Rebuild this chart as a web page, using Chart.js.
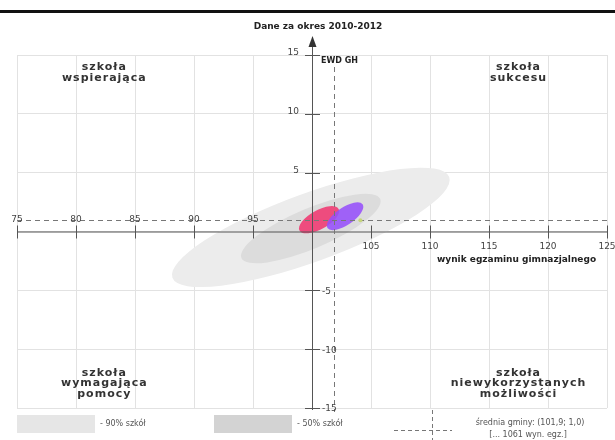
<!DOCTYPE html>
<html>
<head>
<meta charset="utf-8">
<script src="https://cdn.jsdelivr.net/npm/chart.js@4/dist/chart.umd.min.js"></script>
<style>
	body { margin: 0; background: #fff; }
	#wrap { position: relative; width: 615px; height: 440px; overflow: hidden; }
</style>
</head>
<body>
<div id="wrap"><canvas id="EwdChart" width="615" height="440"></canvas></div>
<script>
// dane
var title = "Dane za okres 2010-2012";
var xTicks = [75, 80, 85, 90, 95, 100, 105, 110, 115, 120, 125];
var yTicks = [-15, -10, -5, 0, 5, 10, 15];
var xTitle = "wynik egzaminu gimnazjalnego";
var meanPoint = [101.9, 1.0];
var meanCount = 1061;
var meanLabel = "EWD GH";

// elipsy: 90% szkół, 50% szkół, EWD (różowa), GH (fioletowa)
var ellipseCx = [99.9, 99.9, 100.6, 102.8];
var ellipseCy = [0.35, 0.25, 1.0, 1.3];
var ellipseRx = [12.5, 6.4, 1.9, 1.8];
var ellipseRy = [2.9, 1.7, 0.8, 0.75];
var ellipseAngle = [20, 23, 29, 34];
var ellipseColors = ["#ececec", "#dcdcdc", "rgba(240,60,115,0.9)", "rgba(150,80,250,0.88)"];

var schoolX = [104.1];
var schoolY = [0.95];

var quadrants = [
	{ x: 82.4, y: 13.5, lines: ["szkoła", "wspierająca"] },
	{ x: 117.5, y: 13.5, lines: ["szkoła", "sukcesu"] },
	{ x: 82.4, y: -12.9, lines: ["szkoła", "wymagająca", "pomocy"] },
	{ x: 117.5, y: -12.9, lines: ["szkoła", "niewykorzystanych", "możliwości"] }
];

function fmt(v) {
	return v.toFixed(1).replace(".", ",");
}

var ewdPlugin = {
	id: "ewd",
	beforeDatasetsDraw: function(chart) {
		var ctx = chart.ctx, xs = chart.scales.x, ys = chart.scales.y;
		var pxUnit = Math.abs(xs.getPixelForValue(1) - xs.getPixelForValue(0));
		var pyUnit = Math.abs(ys.getPixelForValue(1) - ys.getPixelForValue(0));
		var unit = (pxUnit + pyUnit) / 2;
		ctx.save();
		for (var i = 0; i < ellipseCx.length; i++) {
			ctx.beginPath();
			ctx.ellipse(xs.getPixelForValue(ellipseCx[i]), ys.getPixelForValue(ellipseCy[i]),
				ellipseRx[i] * unit, ellipseRy[i] * unit, -ellipseAngle[i] * Math.PI / 180, 0, Math.PI * 2);
			ctx.fillStyle = ellipseColors[i];
			ctx.fill();
		}

		var a = chart.chartArea;
		var x0 = xs.getPixelForValue(100), y0 = ys.getPixelForValue(0);
		// osie
		ctx.strokeStyle = "#555";
		ctx.lineWidth = 1;
		ctx.beginPath();
		ctx.moveTo(a.left, y0 + 0.5); ctx.lineTo(a.right, y0 + 0.5);
		ctx.moveTo(x0 + 0.5, a.top - 14); ctx.lineTo(x0 + 0.5, a.bottom + 2);
		xTicks.forEach(function(t) {
			var px = Math.round(xs.getPixelForValue(t)) + 0.5;
			ctx.moveTo(px, y0 - 6); ctx.lineTo(px, y0 + 7);
		});
		yTicks.forEach(function(t) {
			if (t === 0) return;
			var py = Math.round(ys.getPixelForValue(t)) + 0.5;
			ctx.moveTo(x0 - 7, py); ctx.lineTo(x0 + 8, py);
		});
		ctx.stroke();
		ctx.fillStyle = "#333";
		ctx.beginPath();
		ctx.moveTo(x0 + 0.5, a.top - 19);
		ctx.lineTo(x0 - 3.5, a.top - 8);
		ctx.lineTo(x0 + 4.5, a.top - 8);
		ctx.closePath();
		ctx.fill();

		// linie średniej
		var mx = Math.round(xs.getPixelForValue(meanPoint[0])) + 0.5;
		var my = Math.round(ys.getPixelForValue(meanPoint[1])) + 0.5;
		ctx.strokeStyle = "#777";
		ctx.setLineDash([5, 4]);
		ctx.beginPath();
		ctx.moveTo(a.left, my); ctx.lineTo(a.right, my);
		ctx.moveTo(mx, a.top + 12); ctx.lineTo(mx, a.bottom + 4);
		ctx.stroke();
		ctx.setLineDash([]);
		ctx.restore();
	},
	afterDraw: function(chart) {
		var ctx = chart.ctx, xs = chart.scales.x, ys = chart.scales.y, a = chart.chartArea;
		var x0 = xs.getPixelForValue(100), y0 = ys.getPixelForValue(0);
		ctx.save();
		// górna linia
		ctx.fillStyle = "#111";
		ctx.fillRect(0, 10, 615, 3);

		ctx.fillStyle = "#222";
		ctx.textAlign = "center";
		ctx.textBaseline = "middle";
		ctx.font = "bold 9px 'DejaVu Sans'";
		ctx.fillText(title, 318, 27);

		// etykiety osi
		ctx.font = "9px 'DejaVu Sans'";
		ctx.fillStyle = "#444";
		xTicks.forEach(function(t) {
			if (t === 100) return;
			var px = xs.getPixelForValue(t);
			if (t < 100) ctx.fillText(String(t), Math.max(px, 9), y0 - 12);
			else ctx.fillText(String(t), px, y0 + 15);
		});
		yTicks.forEach(function(t) {
			if (t === 0) return;
			var py = ys.getPixelForValue(t);
			if (t > 0) { ctx.textAlign = "right"; ctx.fillText(String(t), x0 - 13, py - 2); }
			else { ctx.textAlign = "left"; ctx.fillText(String(t), x0 + 10, py + 1); }
		});
		ctx.textAlign = "left";
		ctx.fillStyle = "#222";
		ctx.font = "bold 9px 'DejaVu Sans'";
		ctx.fillText(xTitle, 437, y0 + 28);

		ctx.textAlign = "center";
		ctx.font = "bold 8px 'DejaVu Sans'";
		ctx.fillText(meanLabel, xs.getPixelForValue(meanPoint[0]) + 5, a.top + 6);

		// ćwiartki
		ctx.font = "bold 11px 'DejaVu Sans'";
		ctx.letterSpacing = "1px";
		ctx.fillStyle = "#333";
		quadrants.forEach(function(q) {
			var cx = xs.getPixelForValue(q.x), cy = ys.getPixelForValue(q.y);
			var n = q.lines.length;
			q.lines.forEach(function(l, i) {
				ctx.fillText(l, cx, cy + (i - (n - 1) / 2) * 10.5);
			});
		});
		ctx.letterSpacing = "0px";

		// legenda
		ctx.fillStyle = "#e6e6e6";
		ctx.fillRect(17, 415, 78, 18);
		ctx.fillStyle = "#d3d3d3";
		ctx.fillRect(214, 415, 78, 18);
		ctx.font = "8px 'DejaVu Sans'";
		ctx.fillStyle = "#555";
		ctx.textAlign = "left";
		ctx.fillText("- 90% szkół", 100, 424);
		ctx.fillText("- 50% szkół", 297, 424);
		ctx.strokeStyle = "#777";
		ctx.setLineDash([4, 3]);
		ctx.beginPath();
		ctx.moveTo(394, 430.5); ctx.lineTo(452, 430.5);
		ctx.moveTo(432.5, 410); ctx.lineTo(432.5, 440);
		ctx.stroke();
		ctx.setLineDash([]);
		ctx.textAlign = "center";
		ctx.fillText("średnia gminy: (" + fmt(meanPoint[0]) + "; " + fmt(meanPoint[1]) + ")", 530, 423);
		ctx.fillText("[... " + meanCount + " wyn. egz.]", 528, 435);
		ctx.restore();
	}
};

new Chart(document.getElementById("EwdChart").getContext("2d"), {
	type: "scatter",
	data: {
		datasets: [{
			data: schoolX.map(function(x, i) { return { x: x, y: schoolY[i] }; }),
			backgroundColor: "#c6d67a",
			borderWidth: 0,
			pointRadius: 2
		}]
	},
	options: {
		responsive: false,
		animation: false,
		devicePixelRatio: 1,
		layout: { padding: { left: 17, right: 8, top: 55, bottom: 32 } },
		plugins: { legend: { display: false }, tooltip: { enabled: false } },
		scales: {
			x: {
				type: "linear", min: 75, max: 125,
				ticks: { display: false, stepSize: 5 },
				grid: { color: "#e2e2e2", drawTicks: false },
				border: { display: false }
			},
			y: {
				type: "linear", min: -15, max: 15,
				ticks: { display: false, stepSize: 5 },
				grid: { color: "#e2e2e2", drawTicks: false },
				border: { display: false }
			}
		}
	},
	plugins: [ewdPlugin]
});
</script>
</body>
</html>
